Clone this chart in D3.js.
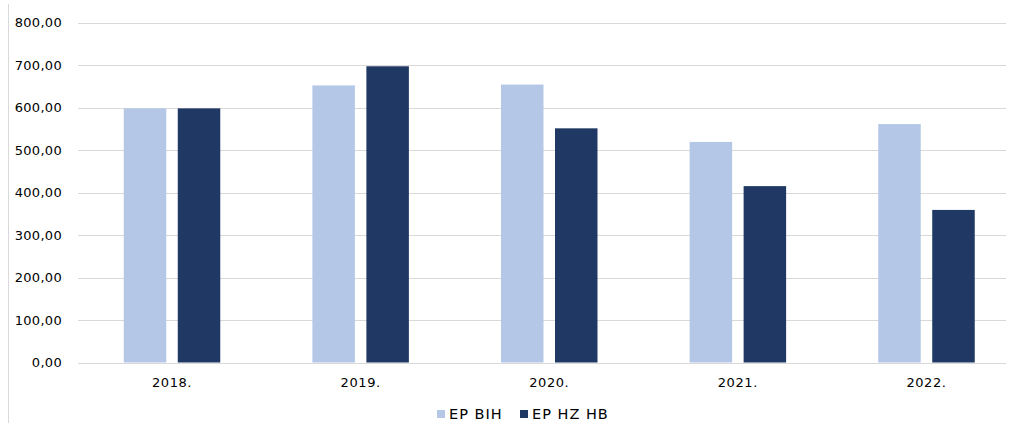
<!DOCTYPE html>
<html>
<head>
<meta charset="utf-8">
<script src="https://cdn.jsdelivr.net/npm/d3@7"></script>
<style>
  body { margin: 0; background: #fff; }
  text { font-family: "DejaVu Sans", sans-serif; fill: #000; }
</style>
</head>
<body>
<script>
const years = ['2018.', '2019.', '2020.', '2021.', '2022.']
const seriesNames = ['EP BIH', 'EP HZ HB']
const epBih = [598, 652, 654, 519, 561]
const epHzHb = [598, 697, 551, 415, 359]
const yTicks = [0, 100, 200, 300, 400, 500, 600, 700, 800]
const colors = ['#B4C7E7', '#203864']

let width = 1009,
    height = 423

let svg = d3.select('body').append('svg')
  .attr('width', width)
  .attr('height', height)

const plotLeft = 78, plotRight = 1006, plotTop = 22.5, plotBottom = 362.5

// outer frame line on the left
svg.append('line')
  .attr('x1', 8.5).attr('x2', 8.5)
  .attr('y1', 4).attr('y2', height)
  .style('stroke', '#d9d9d9')
  .style('stroke-width', 1)

// categories are spread a bit wider than the gridlines reach
let x = d3.scaleBand().domain(years).range([77.7, 1020.8])
let y = d3.scaleLinear().domain([0, 800]).range([plotBottom, plotTop])

const barW = 42.5, gap = 11.5

// gridlines
svg.append('g').selectAll('line').data(yTicks).enter().append('line')
  .attr('x1', plotLeft).attr('x2', plotRight)
  .attr('y1', d => Math.round(y(d)) + 0.5)
  .attr('y2', d => Math.round(y(d)) + 0.5)
  .style('stroke', '#d9d9d9')
  .style('stroke-width', 1)

// y labels
let fmt = d => d3.format('.2f')(d).replace('.', ',')
svg.append('g').selectAll('text').data(yTicks).enter().append('text')
  .attr('x', 62)
  .attr('y', d => y(d))
  .attr('dy', '0.35em')
  .attr('text-anchor', 'end')
  .style('font-size', '13px')
  .style('letter-spacing', '0.3px')
  .text(fmt)

// bars
let rows = years.map((yr, i) => ({ year: yr, vals: [epBih[i], epHzHb[i]] }))
let groups = svg.append('g').selectAll('g').data(rows).enter().append('g')
  .attr('transform', d => `translate(${x(d.year) + x.bandwidth() / 2}, 0)`)

groups.selectAll('rect').data(d => d.vals).enter().append('rect')
  .attr('x', (d, j) => j === 0 ? -(barW + gap / 2) : gap / 2)
  .attr('width', barW)
  .attr('y', d => y(d))
  .attr('height', d => plotBottom - y(d))
  .style('fill', (d, j) => colors[j])

// x labels
svg.append('g').selectAll('text').data(years).enter().append('text')
  .attr('x', d => x(d) + x.bandwidth() / 2)
  .attr('y', 382)
  .attr('dy', '0.35em')
  .attr('text-anchor', 'middle')
  .style('font-size', '13px')
  .style('letter-spacing', '0.6px')
  .text(d => d)

// legend
let legend = svg.append('g')
let legendX = [437, 520]
seriesNames.forEach((name, i) => {
  legend.append('rect')
    .attr('x', legendX[i]).attr('y', 410)
    .attr('width', 8).attr('height', 8)
    .style('fill', colors[i])
  legend.append('text')
    .attr('x', legendX[i] + 12).attr('y', 414)
    .attr('dy', '0.35em')
    .style('font-size', '14.5px')
    .style('letter-spacing', '1px')
    .text(name)
})
</script>
</body>
</html>
